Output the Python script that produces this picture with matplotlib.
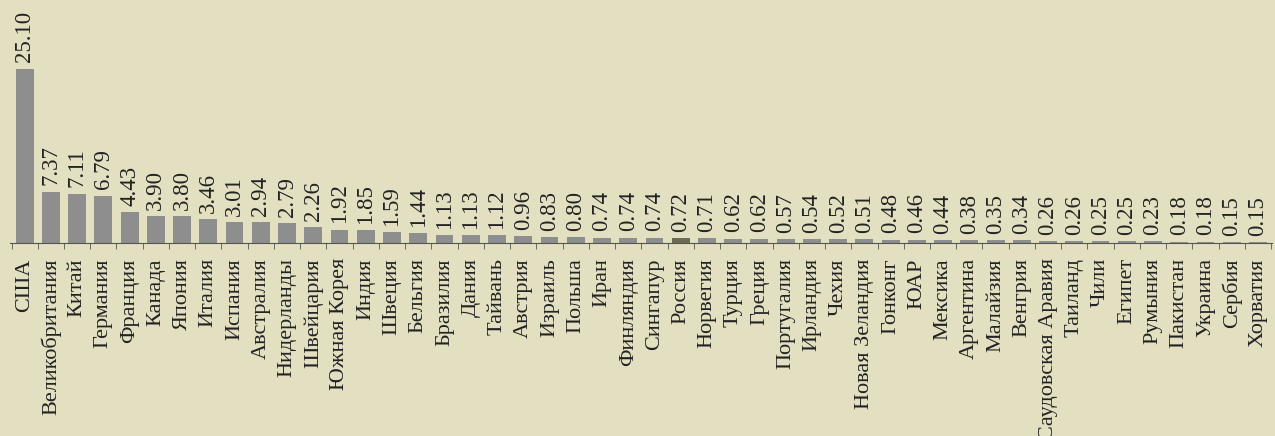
import numpy as np
import matplotlib.pyplot as plt

countries = ["США", "Великобритания", "Китай", "Германия", "Франция", "Канада", "Япония",
             "Италия", "Испания", "Австралия", "Нидерланды", "Швейцария", "Южная Корея",
             "Индия", "Швеция", "Бельгия", "Бразилия", "Дания", "Тайвань", "Австрия",
             "Израиль", "Польша", "Иран", "Финляндия", "Сингапур", "Россия", "Норвегия",
             "Турция", "Греция", "Португалия", "Ирландия", "Чехия", "Новая Зеландия",
             "Гонконг", "ЮАР", "Мексика", "Аргентина", "Малайзия", "Венгрия",
             "Саудовская Аравия", "Таиланд", "Чили", "Египет", "Румыния", "Пакистан",
             "Украина", "Сербия", "Хорватия"]
values = [25.10, 7.37, 7.11, 6.79, 4.43, 3.90, 3.80, 3.46, 3.01, 2.94, 2.79, 2.26, 1.92,
          1.85, 1.59, 1.44, 1.13, 1.13, 1.12, 0.96, 0.83, 0.80, 0.74, 0.74, 0.74, 0.72,
          0.71, 0.62, 0.62, 0.57, 0.54, 0.52, 0.51, 0.48, 0.46, 0.44, 0.38, 0.35, 0.34,
          0.26, 0.26, 0.25, 0.25, 0.23, 0.18, 0.18, 0.15, 0.15]
highlight = "Россия"

bg = "#e3dfc1"
plt.rcParams['font.family'] = ['Liberation Serif', 'DejaVu Serif']

fig = plt.figure(figsize=(12.75, 4.36), dpi=100, facecolor=bg)
ax = fig.add_axes([0.008, 0.443, 0.99, 0.557])
ax.set_facecolor(bg)

x = np.arange(len(countries))
colors = ["#6e6b55" if c == highlight else "#8e8e8e" for c in countries]
ax.bar(x, values, width=0.68, color=colors)

for xi, v in zip(x, values):
    ax.text(xi, v + 0.9, f"{v:.2f}", rotation=90, ha="center", va="bottom",
            fontsize=16.5, color="#222222")

ax.set_xlim(-0.55, len(countries) - 0.45)
ax.set_ylim(0, 35)
ax.set_xticks(x)
ax.set_xticklabels(countries, rotation=90, fontsize=16, color="#222222")
ax.set_xticks(np.arange(-0.5, len(countries), 1), minor=True)
ax.tick_params(axis="x", which="major", length=0, pad=11)
ax.tick_params(axis="x", which="minor", length=4, color="#555555")
ax.set_yticks([])
for s in ["top", "right", "left"]:
    ax.spines[s].set_visible(False)
ax.spines["bottom"].set_color("#555555")

fig.savefig("out.png", dpi=100, facecolor=bg)
